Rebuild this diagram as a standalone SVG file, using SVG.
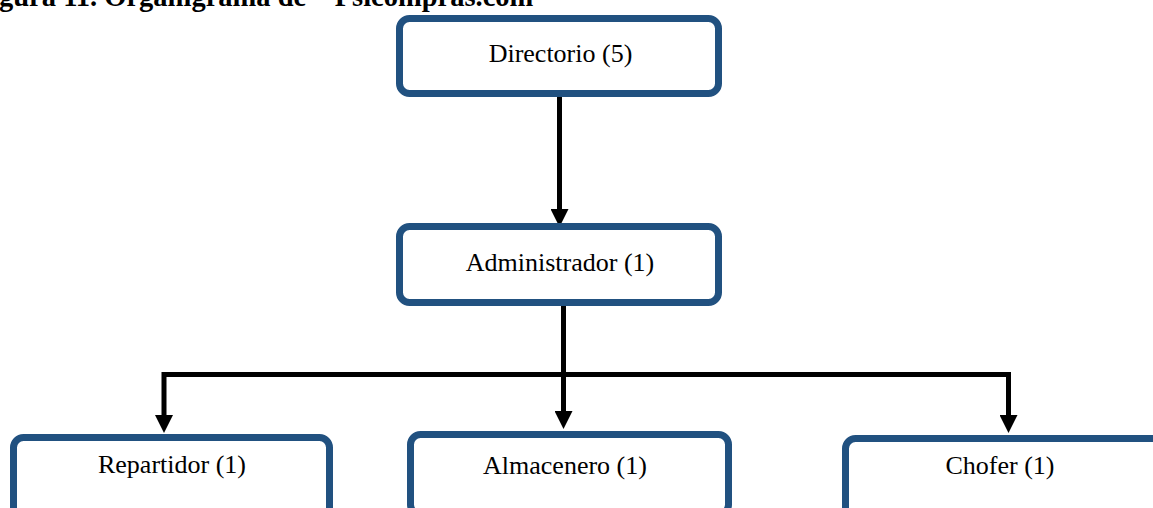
<svg xmlns="http://www.w3.org/2000/svg" width="1153" height="508" viewBox="0 0 1153 508">
<style>
.box{fill:#ffffff;stroke:#215180;stroke-width:7}
.lbl{font-family:"Liberation Serif","Times New Roman",serif;font-size:26px;fill:#000;text-anchor:middle}
.title{font-family:"Liberation Serif","Times New Roman",serif;font-size:28.5px;font-weight:bold;fill:#000}
.conn{fill:none;stroke:#000;stroke-width:5;stroke-linejoin:miter}
</style>
<defs>
<marker id="ah" markerUnits="userSpaceOnUse" markerWidth="18" markerHeight="18" refX="0" refY="9" orient="auto" viewBox="0 0 18 18">
<path d="M0,0 L18,9 L0,18 z" fill="#000"/>
</marker>
</defs>
<rect width="1153" height="508" fill="#ffffff"/>
<text class="title" x="-1" y="6">gura 11. Organigrama de “ Psicompras.com</text>
<g id="connectors">
<path class="conn" d="M559.5,97 V209" marker-end="url(#ah)"/>
<path class="conn" d="M563.5,306 V411" marker-end="url(#ah)"/>
<path class="conn" d="M563.5,374.5 H164 V415" marker-end="url(#ah)"/>
<path class="conn" d="M563.5,374.5 H1008.5 V415" marker-end="url(#ah)"/>
</g>
<g id="directorio">
<rect class="box" x="399.5" y="18.5" width="319" height="75" rx="10"/>
<text class="lbl" x="560.5" y="62">Directorio (5)</text>
</g>
<g id="administrador">
<rect class="box" x="399.5" y="226.5" width="319" height="76" rx="10"/>
<text class="lbl" x="560" y="271">Administrador (1)</text>
</g>
<g id="repartidor">
<rect class="box" x="13.5" y="437.5" width="316" height="80" rx="10"/>
<text class="lbl" x="172" y="473">Repartidor (1)</text>
</g>
<g id="almacenero">
<rect class="box" x="410.5" y="434.5" width="318" height="80" rx="10"/>
<text class="lbl" x="565" y="474">Almacenero (1)</text>
</g>
<g id="chofer">
<rect class="box" x="845.5" y="438.5" width="330" height="80" rx="10"/>
<text class="lbl" x="1000" y="474">Chofer (1)</text>
</g>
</svg>
